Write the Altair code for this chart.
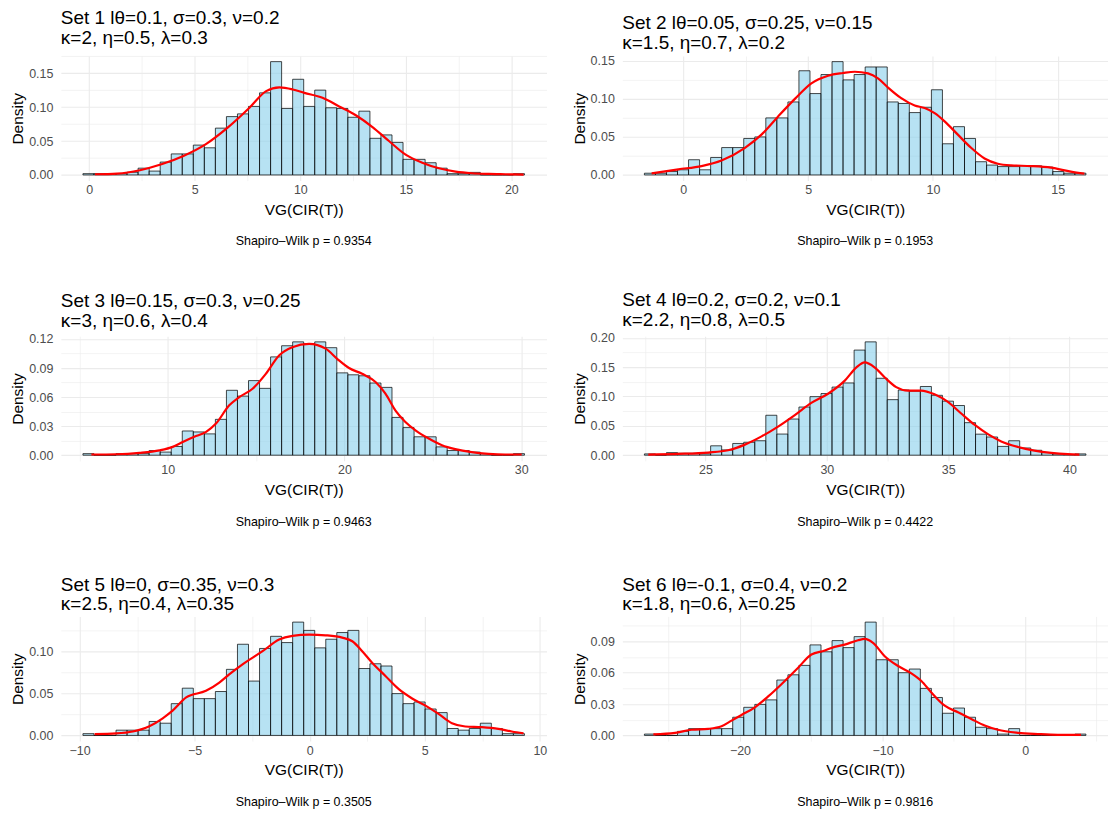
import altair as alt
import pandas as pd
import math

# ---------------- data ----------------
titles = [
    ["Set 1 lθ=0.1, σ=0.3, ν=0.2", "κ=2, η=0.5, λ=0.3"],
    ["Set 2 lθ=0.05, σ=0.25, ν=0.15", "κ=1.5, η=0.7, λ=0.2"],
    ["Set 3 lθ=0.15, σ=0.3, ν=0.25", "κ=3, η=0.6, λ=0.4"],
    ["Set 4 lθ=0.2, σ=0.2, ν=0.1", "κ=2.2, η=0.8, λ=0.5"],
    ["Set 5 lθ=0, σ=0.35, ν=0.3", "κ=2.5, η=0.4, λ=0.35"],
    ["Set 6 lθ=-0.1, σ=0.4, ν=0.2", "κ=1.8, η=0.6, λ=0.25"],
]
p_values = ["0.9354", "0.1953", "0.9463", "0.4422", "0.3505", "0.9816"]

bin_start = [-0.30, -1.56, 5.20, 22.48, -9.857, -26.70]
bin_width = [0.523, 0.4423, 0.6247, 0.455, 0.4797, 0.774]

dens1 = [0.0019, 0.0019, 0.0019, 0.0019, 0.004, 0.010, 0.0057, 0.019, 0.031, 0.031,
         0.044, 0.040, 0.069, 0.086, 0.090, 0.101, 0.121, 0.167, 0.098, 0.141,
         0.101, 0.125, 0.099, 0.098, 0.085, 0.094, 0.054, 0.059, 0.048, 0.023,
         0.023, 0.018, 0.010, 0.0019, 0.0019, 0.0038, 0.0, 0.0, 0.0, 0.0019]
dens2 = [0.0023, 0.0023, 0.0045, 0.0068, 0.020, 0.0068, 0.023, 0.036, 0.036, 0.048,
         0.050, 0.075, 0.075, 0.096, 0.137, 0.107, 0.132, 0.149, 0.125, 0.132,
         0.142, 0.142, 0.096, 0.094, 0.082, 0.089, 0.112, 0.041, 0.0635, 0.048,
         0.0174, 0.013, 0.011, 0.011, 0.012, 0.012, 0.0104, 0.0045, 0.0023, 0.0023]
dens3 = [0.0016, 0.0, 0.0, 0.0016, 0.0016, 0.0016, 0.0048, 0.0032, 0.009, 0.025,
         0.024, 0.022, 0.037, 0.067, 0.061, 0.077, 0.069, 0.1015, 0.113, 0.117,
         0.115, 0.117, 0.111, 0.085, 0.083, 0.082, 0.0745, 0.070, 0.039, 0.0285,
         0.019, 0.019, 0.0086, 0.0048, 0.0048, 0.0032, 0.0016, 0.0, 0.0, 0.0016]
dens4 = [0.0022, 0.0, 0.0044, 0.0033, 0.0033, 0.0022, 0.016, 0.009, 0.020, 0.022,
         0.0246, 0.068, 0.036, 0.0616, 0.082, 0.0997, 0.105, 0.116, 0.123, 0.179,
         0.193, 0.131, 0.0946, 0.111, 0.109, 0.117, 0.102, 0.092, 0.0846, 0.0554,
         0.0358, 0.031, 0.015, 0.0246, 0.0123, 0.0084, 0.0044, 0.0022, 0.0011, 0.0022]
dens5 = [0.0021, 0.0, 0.0, 0.0063, 0.0063, 0.0063, 0.0167, 0.0146, 0.038, 0.0565,
         0.044, 0.044, 0.0525, 0.079, 0.109, 0.065, 0.104, 0.1185, 0.111, 0.1355,
         0.1256, 0.1047, 0.115, 0.123, 0.1256, 0.080, 0.0857, 0.083, 0.050, 0.038,
         0.040, 0.0316, 0.0273, 0.0083, 0.0063, 0.0083, 0.0146, 0.0083, 0.0021, 0.0021]
dens6 = [0.0013, 0.0, 0.0, 0.0039, 0.0065, 0.0065, 0.0065, 0.0065, 0.0174, 0.0269,
         0.0297, 0.034, 0.053, 0.058, 0.067, 0.0866, 0.080, 0.0907, 0.084, 0.0945,
         0.1084, 0.0724, 0.0724, 0.060, 0.0635, 0.045, 0.0363, 0.0212, 0.0262, 0.0174,
         0.0078, 0.0065, 0.0013, 0.0065, 0.0, 0.0, 0.0, 0.0, 0.0, 0.0013]
densities = [dens1, dens2, dens3, dens4, dens5, dens6]

# kernel density curves (x, density)
kde1_x = [0.27, 1.32, 2.4, 3.42, 4.46, 5.51, 6.57, 7.59, 8.38, 9.01, 9.64, 10.19, 11.05,
          11.84, 12.63, 13.42, 14.2, 14.99, 15.78, 16.57, 17.36, 18.14, 18.93, 19.72, 20.58]
kde1_y = [0.001, 0.002, 0.007, 0.0157, 0.028, 0.045, 0.070, 0.099, 0.1235, 0.129, 0.126,
          0.121, 0.1137, 0.101, 0.088, 0.0706, 0.050, 0.030, 0.018, 0.0098, 0.0049, 0.0025,
          0.0015, 0.001, 0.0005]
kde2_x = [-1.27, -0.2, 0.73, 1.53, 2.47, 3.13, 3.8, 4.47, 5.13, 5.8, 6.4, 6.87, 7.4, 7.8,
          8.2, 8.73, 9.27, 9.67, 10.07, 10.47, 11.0, 11.53, 12.07, 12.6, 13.13, 13.93,
          14.73, 15.53, 16.07]
kde2_y = [0.002, 0.0074, 0.0117, 0.019, 0.0357, 0.053, 0.077, 0.100, 0.1205, 0.1305, 0.134,
          0.1357, 0.1335, 0.127, 0.115, 0.101, 0.0914, 0.088, 0.0813, 0.0705, 0.053, 0.0357,
          0.0217, 0.0148, 0.0126, 0.0117, 0.0096, 0.0044, 0.0017]
kde3_x = [5.68, 7.09, 8.4, 9.53, 10.28, 10.85, 11.5, 12.17, 12.73, 13.48, 14.05, 14.8, 15.55,
          16.3, 17.05, 18.0, 18.94, 19.59, 20.26, 21.0, 21.76, 22.32, 22.89, 23.45, 24.02,
          24.77, 25.52, 26.27, 27.2, 28.15, 29.09, 30.03]
kde3_y = [0.0007, 0.001, 0.0024, 0.005, 0.0086, 0.0137, 0.019, 0.024, 0.0326, 0.0515, 0.060,
          0.0686, 0.084, 0.103, 0.1115, 0.115, 0.110, 0.0995, 0.090, 0.084, 0.0755, 0.0635,
          0.046, 0.0343, 0.0257, 0.0172, 0.0103, 0.0062, 0.0031, 0.0014, 0.0007, 0.0007]
kde4_x = [22.64, 23.88, 25.11, 25.93, 26.62, 27.31, 27.99, 28.68, 29.36, 30.05, 30.74, 31.22,
          31.56, 31.97, 32.38, 32.86, 33.34, 33.89, 34.44, 34.99, 35.54, 36.1, 36.64, 37.19,
          37.88, 38.56, 39.25, 39.93, 40.41]
kde4_y = [0.001, 0.0022, 0.0045, 0.0084, 0.018, 0.032, 0.0487, 0.0683, 0.089, 0.1047, 0.127,
          0.1495, 0.158, 0.1495, 0.1327, 0.116, 0.110, 0.110, 0.1036, 0.0907, 0.071, 0.0515,
          0.0358, 0.0235, 0.014, 0.0078, 0.0039, 0.0017, 0.001]
kde5_x = [-9.35, -8.41, -7.69, -6.97, -6.39, -5.96, -5.37, -4.51, -3.93, -3.5, -2.92, -2.05,
          -1.33, -0.75, -0.03, 0.69, 1.41, 1.85, 2.28, 2.71, 3.29, 3.87, 4.45, 5.03, 5.6,
          6.18, 6.76, 7.48, 8.2, 8.78, 9.29]
kde5_y = [0.0016, 0.0024, 0.0047, 0.011, 0.0205, 0.0296, 0.0454, 0.0533, 0.0632, 0.073, 0.085,
          0.1007, 0.1146, 0.119, 0.1205, 0.1197, 0.117, 0.1126, 0.1007, 0.0869, 0.0711,
          0.0553, 0.0442, 0.0356, 0.0257, 0.0146, 0.0107, 0.0099, 0.0079, 0.0047, 0.0024]
kde6_x = [-26.07, -24.55, -23.39, -22.22, -21.29, -20.59, -19.89, -18.95, -18.02, -17.09,
          -15.92, -14.99, -14.05, -13.59, -12.65, -11.72, -11.25, -10.67, -9.85, -8.91, -7.98,
          -7.28, -6.58, -5.64, -4.71, -3.78, -2.84, -1.91, -0.51, 0.89, 2.29, 3.92]
kde6_y = [0.001, 0.0025, 0.0054, 0.0063, 0.0088, 0.0142, 0.0196, 0.0269, 0.0373, 0.049,
          0.0648, 0.0774, 0.0812, 0.0837, 0.0869, 0.091, 0.0923, 0.0885, 0.0758, 0.0664,
          0.0594, 0.0521, 0.0411, 0.0284, 0.0221, 0.0158, 0.0095, 0.0054, 0.0025, 0.0013,
          0.0006, 0.0006]
kde_x = [kde1_x, kde2_x, kde3_x, kde4_x, kde5_x, kde6_x]
kde_y = [kde1_y, kde2_y, kde3_y, kde4_y, kde5_y, kde6_y]

# axis ticks: (major step, minor step)
x_steps = [(5, 2.5), (5, 2.5), (10, 5), (5, 2.5), (5, 2.5), (10, 5)]
y_steps = [(0.05, 0.025), (0.05, 0.025), (0.03, 0.015), (0.05, 0.025), (0.05, 0.025), (0.03, 0.015)]

# ---------------- styling ----------------
FONT = "Liberation Sans"
W, H = 487, 125
GRID = "#EBEBEB"


def tick_values(lo, hi, step):
    k0 = math.ceil(lo / step - 1e-9)
    k1 = math.floor(hi / step + 1e-9)
    return [round(k * step, 6) for k in range(k0, k1 + 1)]


def major_test(step):
    return f"abs(datum.value/{step} - round(datum.value/{step})) < 1e-6"


def panel(i):
    n = len(densities[i])
    x0 = [bin_start[i] + k * bin_width[i] for k in range(n)]
    x1 = [bin_start[i] + (k + 1) * bin_width[i] for k in range(n)]
    bars_df = pd.DataFrame({"x0": x0, "x1": x1, "density": densities[i]})
    line_df = pd.DataFrame({"x0": kde_x[i], "density": kde_y[i]})
    cap_df = pd.DataFrame({"t": [f"Shapiro\u2013Wilk p = {p_values[i]}"]})

    lo, hi = x0[0], x1[-1]
    pad = 0.05 * (hi - lo)
    xdom = [lo - pad, hi + pad]
    ymax = max(densities[i])
    ydom = [-0.05 * ymax, 1.05 * ymax]

    xmaj, xmin = x_steps[i]
    ymaj, ymin = y_steps[i]
    xvals = tick_values(xdom[0], xdom[1], xmin)
    yvals = tick_values(ydom[0], ydom[1], ymin)

    common = dict(
        grid=True, ticks=False, domain=False, labelOverlap=False, labelSeparation=0,
        labelFont=FONT, titleFont=FONT, labelFontSize=12.5, titleFontSize=15.5,
        labelColor="#4D4D4D", titleColor="black", titleFontWeight="normal",
        gridColor=GRID,
    )
    xaxis = alt.Axis(
        values=xvals, title="VG(CIR(T))", labelFlush=False,
        labelExpr=f"{major_test(xmaj)} ? format(datum.value, 'd') : ''",
        gridWidth={"condition": {"test": major_test(xmaj), "value": 1.1}, "value": 0.6},
        labelPadding=3, titlePadding=6, **common,
    )
    yaxis = alt.Axis(
        values=yvals, title="Density",
        labelExpr=f"{major_test(ymaj)} ? format(datum.value, '.2f') : ''",
        gridWidth={"condition": {"test": major_test(ymaj), "value": 1.1}, "value": 0.6},
        labelPadding=8, titlePadding=3, **common,
    )
    xs = alt.Scale(domain=xdom, nice=False, zero=False)
    ys = alt.Scale(domain=ydom, nice=False, zero=False)

    bars = alt.Chart(bars_df).mark_rect(
        fill="#87CEEB", fillOpacity=0.6, stroke="black", strokeOpacity=0.8, strokeWidth=0.9
    ).encode(
        x=alt.X("x0:Q", scale=xs, axis=xaxis),
        x2="x1:Q",
        y=alt.Y("density:Q", scale=ys, axis=yaxis),
        y2=alt.datum(0),
    )
    line = alt.Chart(line_df).mark_line(
        color="#FF0000", strokeWidth=2.2, interpolate="monotone"
    ).encode(
        x=alt.X("x0:Q", scale=xs, axis=xaxis),
        y=alt.Y("density:Q", scale=ys, axis=yaxis),
    )
    cap = alt.Chart(cap_df).mark_text(
        font=FONT, fontSize=12.5, color="black", baseline="middle", align="center"
    ).encode(text="t:N", x=alt.value(W / 2), y=alt.value(H + 61))

    return alt.layer(bars, line, cap).properties(
        width=W, height=H,
        title=alt.TitleParams(
            text=titles[i], anchor="start", frame="group", font=FONT, fontSize=19,
            fontWeight="normal", color="black", lineHeight=20, offset=2,
        ),
    )


chart = alt.concat(
    *[panel(i) for i in range(6)], columns=2,
    spacing={"row": 156, "column": 76}, bounds="flush",
).properties(
    padding={"left": 2, "top": 0, "right": 0, "bottom": 0}
).configure_view(stroke=None).configure_axis(labelOverlap=False)

chart.save("out.html", embed_options={"renderer": "svg", "actions": False})
